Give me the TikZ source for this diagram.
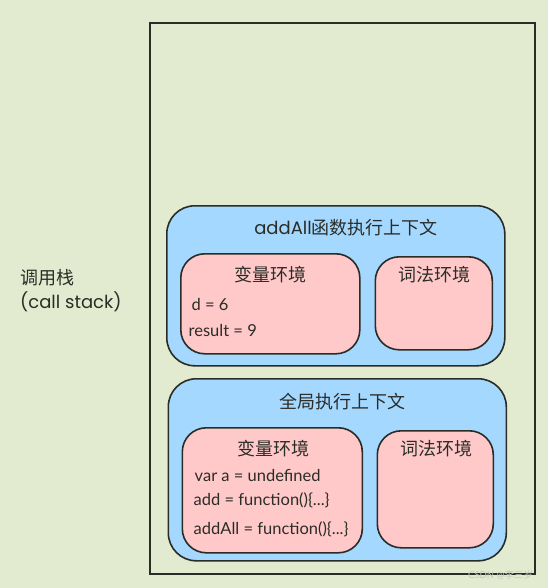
\documentclass[tikz,border=0pt]{standalone}
\usepackage{fontspec}
\setmainfont{Lato}
\newfontfamily\cjk{Noto Sans CJK SC}
\newfontfamily\hand{Poppins}
\usetikzlibrary{positioning}
\definecolor{bggreen}{HTML}{E2EBCF}
\definecolor{ctxblue}{HTML}{A5D8FF}
\definecolor{envpink}{HTML}{FFC9C9}
\definecolor{ink}{HTML}{2A2C27}
\definecolor{wmgray}{HTML}{C4C8BC}

\begin{document}
\begin{tikzpicture}[
    x=1pt, y=-1pt,
    every node/.style={text=ink},
    ctxbox/.style={draw=ink, line width=1.6pt, fill=ctxblue, rounded corners=28pt, anchor=north west, inner sep=0pt},
    envbox/.style={draw=ink, line width=1.6pt, fill=envpink, rounded corners=24pt, anchor=north west, inner sep=0pt},
    boxtitle/.style={font=\cjk\fontsize{18}{22}\selectfont},
    entry/.style={font=\fontsize{16.5}{19}\selectfont, anchor=base west, inner sep=0pt}
]
    \fill[bggreen] (0,0) rectangle (548,588);
    \useasboundingbox (0,0) rectangle (548,588);

    % the stack frame
    \node[draw=ink, line width=1.6pt, anchor=north west, inner sep=0pt,
          minimum width=385pt, minimum height=551pt] (stack) at (149,22) {};
    \node[font=\cjk\fontsize{18}{22}\selectfont, anchor=base west, inner sep=0pt] (stackcn) at (20,284) {调用栈};
    \node[font=\hand\fontsize{18}{22}\selectfont, anchor=base west, inner sep=0pt] (stacken)
        at ([yshift=-24pt]stackcn.base west) {(call stack)};

    % addAll context
    \node[ctxbox, minimum width=338pt, minimum height=160pt] (addctx) at (166,205) {};
    \node[boxtitle] (addtitle) at (346,227.5) {{\hand addAll}函数执行上下文};
    \node[envbox, minimum width=179pt, minimum height=100pt] (addvar) at (180,253) {};
    \node[envbox, minimum width=117pt, minimum height=93pt] (addlex) at (374.5,256) {};
    \node[boxtitle] (addvartitle) at (270.7,274.5) {变量环境};
    \node[boxtitle] (addlextitle) at (434,275) {词法环境};
    \node[entry] (addd) at (191.5,310.5) {d = 6};
    \node[entry] (addres) at (188.5,336.5) {result = 9};

    % global context
    \node[ctxbox, minimum width=338pt, minimum height=182pt] (globctx) at (167.5,378) {};
    \node[boxtitle] (globtitle) at (342,401.5) {全局执行上下文};
    \node[envbox, minimum width=180pt, minimum height=125pt] (globvar) at (181.5,427) {};
    \node[envbox, minimum width=116pt, minimum height=117pt] (globlex) at (376.5,430) {};
    \node[boxtitle] (globvartitle) at (273,448.5) {变量环境};
    \node[boxtitle] (globlextitle) at (436.3,449) {词法环境};
    \node[entry] (globa) at (194.5,481) {var a = undefined};
    \node[entry] (globadd) at (193.5,505.5) {add = function()\{...\}};
    \node[entry] (globaddall) at (193.5,534) {addAll = function()\{...\}};

    \node[font=\fontsize{9.5}{11}\selectfont, text=wmgray, anchor=base west, inner sep=0pt] (mark)
        at (468,578.5) {CSDN @{\cjk 李三岁}};
\end{tikzpicture}
\end{document}
